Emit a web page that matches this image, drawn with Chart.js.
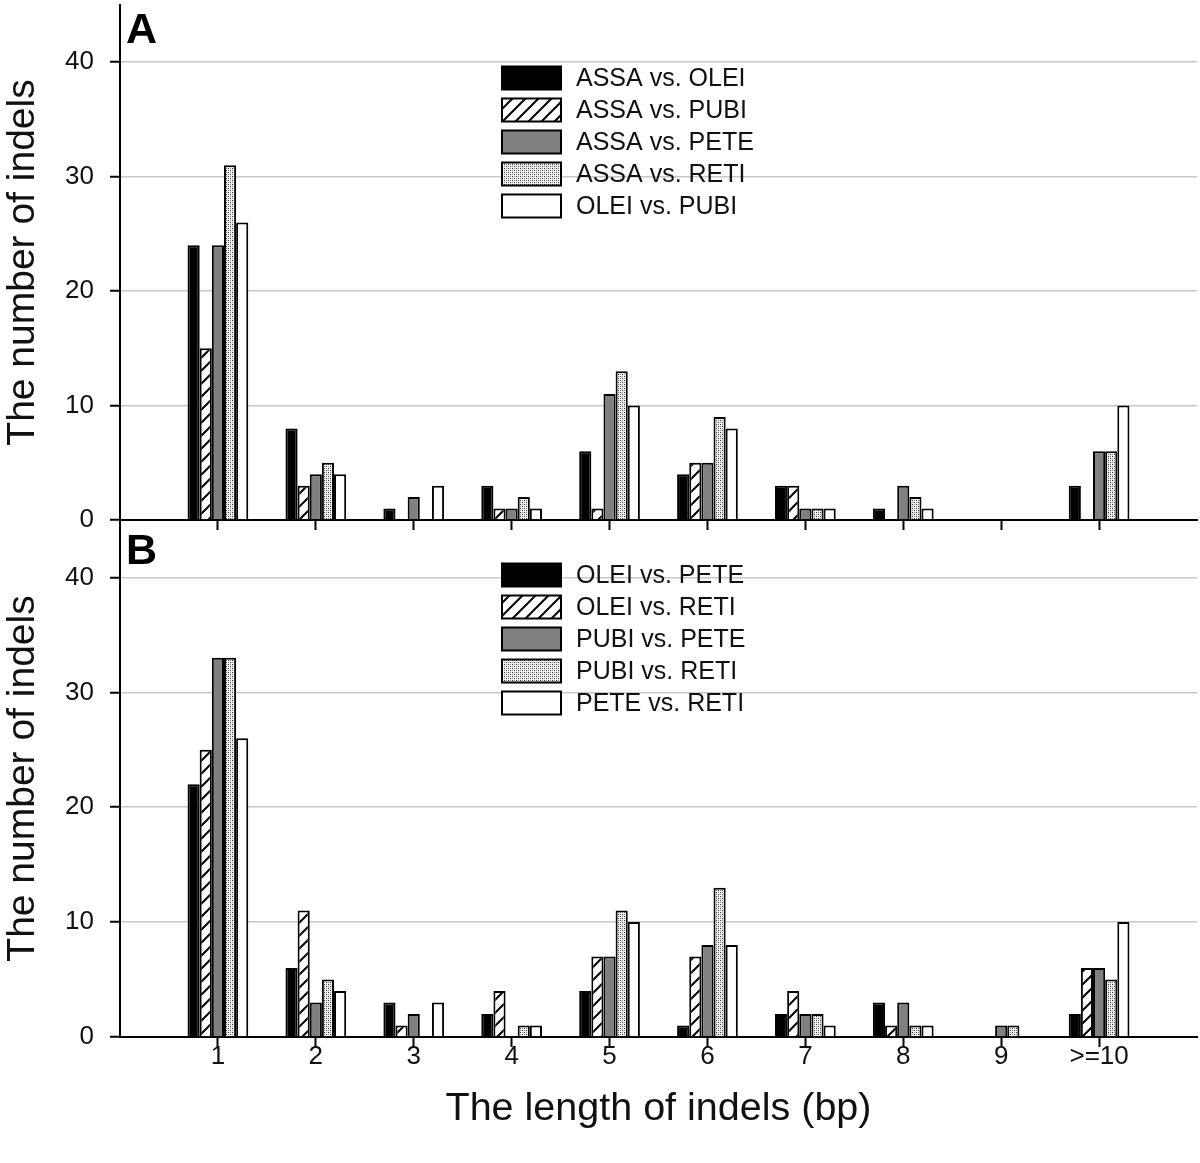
<!DOCTYPE html>
<html>
<head>
<meta charset="utf-8">
<script src="https://cdn.jsdelivr.net/npm/chart.js@4/dist/chart.umd.min.js"></script>
<style>
  html, body { margin: 0; padding: 0; background: #fff; }
  #wrap { position: relative; width: 1200px; height: 1163px; overflow: hidden; }
  #wrapA { position: absolute; left: 0; top: 0; width: 1200px; height: 530px; }
  #wrapB { position: absolute; left: 0; top: 520px; width: 1200px; height: 643px; }
</style>
</head>
<body>
<div id="wrap">
  <div id="wrapA"><canvas id="chartA"></canvas></div>
  <div id="wrapB"><canvas id="chartB"></canvas></div>
</div>
<script>
// ---------- data ----------
const categories = ['1', '2', '3', '4', '5', '6', '7', '8', '9', '>=10'];
const yTicks = [0, 10, 20, 30, 40];

const seriesNamesA = ['ASSA vs. OLEI', 'ASSA vs. PUBI', 'ASSA vs. PETE', 'ASSA vs. RETI', 'OLEI vs. PUBI'];
const assaOlei = [24, 8, 1, 3, 6, 4, 3, 1, 0, 3];
const assaPubi = [15, 3, 0, 1, 1, 5, 3, 0, 0, 0];
const assaPete = [24, 4, 2, 1, 11, 5, 1, 3, 0, 6];
const assaReti = [31, 5, 0, 2, 13, 9, 1, 2, 0, 6];
const oleiPubi = [26, 4, 3, 1, 10, 8, 1, 1, 0, 10];

const seriesNamesB = ['OLEI vs. PETE', 'OLEI vs. RETI', 'PUBI vs. PETE', 'PUBI vs. RETI', 'PETE vs. RETI'];
const oleiPete = [22, 6, 3, 2, 4, 1, 2, 3, 0, 2];
const oleiReti = [25, 11, 1, 4, 7, 7, 4, 1, 0, 6];
const pubiPete = [33, 3, 2, 0, 7, 8, 2, 3, 1, 6];
const pubiReti = [33, 5, 0, 1, 11, 13, 2, 1, 1, 5];
const peteReti = [26, 4, 3, 1, 10, 8, 1, 1, 0, 10];

// ---------- patterns ----------
function hatchPattern() {
  const c = document.createElement('canvas');
  c.width = 13; c.height = 13;
  const g = c.getContext('2d');
  g.fillStyle = '#fff'; g.fillRect(0, 0, 13, 13);
  g.strokeStyle = '#000'; g.lineWidth = 2;
  g.beginPath();
  g.moveTo(-2, 15); g.lineTo(15, -2);
  g.moveTo(-2, 2); g.lineTo(2, -2);
  g.moveTo(11, 15); g.lineTo(15, 11);
  g.stroke();
  return g.createPattern(c, 'repeat');
}
function dotPattern() {
  const c = document.createElement('canvas');
  c.width = 4; c.height = 4;
  const g = c.getContext('2d');
  g.fillStyle = '#f0f0f0'; g.fillRect(0, 0, 4, 4);
  g.fillStyle = '#303030';
  g.fillRect(0, 0, 1, 1); g.fillRect(2, 2, 1, 1);
  g.fillStyle = '#909090';
  g.fillRect(2, 0, 1, 1); g.fillRect(0, 2, 1, 1);
  return g.createPattern(c, 'repeat');
}
const fills = ['#000000', hatchPattern(), '#808080', dotPattern(), '#ffffff'];

const FONT = "'Liberation Sans', Arial, Helvetica, sans-serif";
const labels = [''].concat(categories, ['']);
function pad(a) { return [null].concat(a, [null]); }

function makeDatasets(names, arrs) {
  return names.map((n, i) => ({
    label: n,
    data: pad(arrs[i]),
    backgroundColor: fills[i],
    borderColor: '#000',
    borderWidth: 2,
    categoryPercentage: 0.62,
    barPercentage: 1.0
  }));
}

const legendPlugin = {
  id: 'customLegend',
  afterDraw(chart, args, opts) {
    const ctx = chart.ctx;
    ctx.save();
    chart.data.datasets.forEach((ds, i) => {
      const cy = opts.top + i * opts.step;
      ctx.fillStyle = ds.backgroundColor;
      ctx.fillRect(opts.x, cy - 11.5, 59, 23);
      ctx.lineWidth = 2;
      ctx.strokeStyle = '#000';
      ctx.strokeRect(opts.x, cy - 11.5, 59, 23);
      ctx.fillStyle = '#111';
      ctx.font = '25px ' + FONT;
      ctx.textBaseline = 'middle';
      ctx.textAlign = 'left';
      ctx.fillText(ds.label, opts.x + 74, cy + 1);
    });
    ctx.font = 'bold 43px ' + FONT;
    ctx.fillStyle = '#000';
    ctx.textBaseline = 'top';
    ctx.textAlign = 'left';
    ctx.fillText(opts.panel, opts.panelX, opts.panelY);
    ctx.restore();
  }
};

function makeChart(id, names, arrs, isBottom, legendTop, panel, panelY) {
  const padTop = isBottom ? 0 : 5;
  return new Chart(document.getElementById(id), {
    type: 'bar',
    data: { labels: labels, datasets: makeDatasets(names, arrs) },
    plugins: [legendPlugin],
    options: {
      responsive: true,
      maintainAspectRatio: false,
      animation: false,
      layout: { padding: { left: 0, right: 3, top: padTop, bottom: 0 } },
      plugins: {
        legend: { display: false },
        tooltip: { enabled: false },
        customLegend: { x: 502, top: legendTop, step: 32, panel: panel, panelX: 126, panelY: panelY }
      },
      scales: {
        x: {
          offset: false,
          border: { display: true, color: '#000', width: 2 },
          grid: {
            display: true,
            offset: false,
            drawOnChartArea: false,
            drawTicks: true,
            tickLength: 10,
            tickWidth: 2,
            tickColor: c => (c.index === 0 || c.index === labels.length - 1) ? 'rgba(0,0,0,0)' : '#000'
          },
          ticks: {
            display: isBottom,
            autoSkip: false,
            maxRotation: 0,
            padding: -6,
            color: '#111',
            font: { family: FONT, size: 26 }
          },
          title: {
            display: isBottom,
            text: 'The length of indels (bp)',
            color: '#111',
            font: { family: FONT, size: 39.5 },
            padding: { top: 0, bottom: 30 }
          },
          afterFit: s => { s.height = isBottom ? 126 : 10; s.paddingLeft = 0; s.paddingRight = 0; }
        },
        y: {
          min: 0,
          max: 45,
          border: { display: true, color: '#000', width: 2 },
          grid: {
            color: '#c8c8c8',
            lineWidth: 1.5,
            drawTicks: true,
            tickLength: 10,
            tickWidth: 2,
            tickColor: '#000'
          },
          ticks: {
            stepSize: 10,
            padding: 16,
            color: '#111',
            font: { family: FONT, size: 26 }
          },
          afterBuildTicks: s => { s.ticks = yTicks.map(v => ({ value: v })); },
          title: {
            display: true,
            text: 'The number of indels',
            color: '#111',
            font: { family: FONT, size: 39 },
            padding: { top: 0, bottom: 0 }
          },
          afterFit: s => { s.width = 120; s.paddingTop = 0; s.paddingBottom = 0; }
        }
      }
    }
  });
}

makeChart('chartA', seriesNamesA, [assaOlei, assaPubi, assaPete, assaReti, oleiPubi], false, 78, 'A', 10);
makeChart('chartB', seriesNamesB, [oleiPete, oleiReti, pubiPete, pubiReti, peteReti], true, 55, 'B', 11);
</script>
</body>
</html>
